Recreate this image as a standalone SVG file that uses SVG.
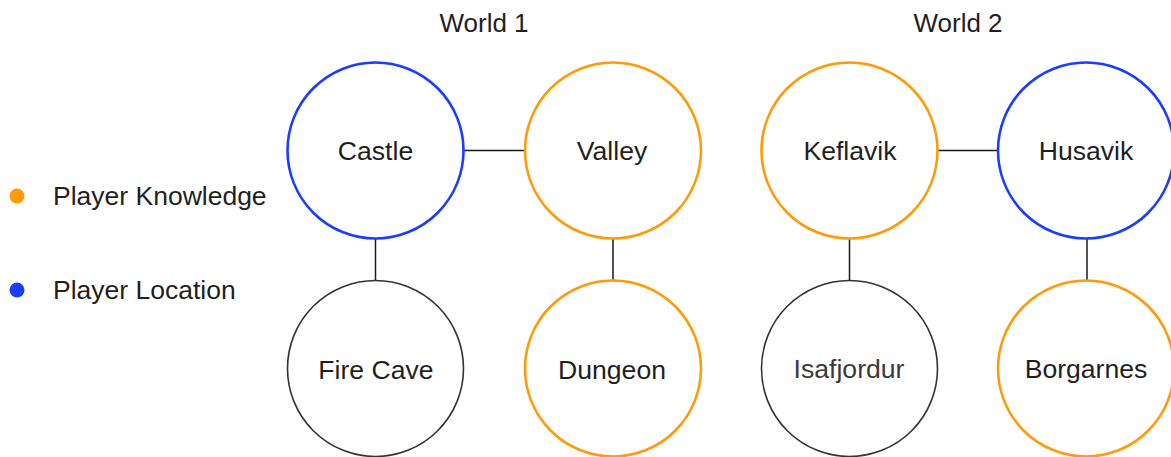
<svg xmlns="http://www.w3.org/2000/svg" width="1171" height="457" viewBox="0 0 1171 457">
<style>
  text { font-family: "Liberation Sans", Arial, Helvetica, sans-serif; fill: #1f1f1f; }
  .lbl { font-size: 26.6px; text-anchor: middle; }
  .title { font-size: 26px; text-anchor: middle; }
  .legend { font-size: 26.5px; }
  .node { fill: #ffffff; }
  .orange { stroke: #ff9a0a; stroke-width: 2.6; }
  .blue { stroke: #1a3dff; stroke-width: 2.6; }
  .plain { stroke: #333333; stroke-width: 1.6; }
  .edge { stroke: #1a1a1a; stroke-width: 1.5; fill: none; }
</style>
<rect width="1171" height="457" fill="#ffffff"/>
<g id="legend">
  <circle cx="17" cy="196" r="7.5" fill="#ff9a0a"/>
  <text class="legend" x="53" y="205">Player Knowledge</text>
  <circle cx="17" cy="290" r="7.5" fill="#1a3dff"/>
  <text class="legend" x="53" y="299">Player Location</text>
</g>
<g id="titles">
  <text class="title" x="484" y="32">World 1</text>
  <text class="title" x="958" y="32">World 2</text>
</g>
<g id="connectors">
  <line class="edge" x1="463.5" y1="150.5" x2="525" y2="150.5"/>
  <line class="edge" x1="375.5" y1="238.5" x2="375.5" y2="280.5"/>
  <line class="edge" x1="613" y1="238.5" x2="613" y2="280.5"/>
  <line class="edge" x1="937.5" y1="150.5" x2="998" y2="150.5"/>
  <line class="edge" x1="849.5" y1="238.5" x2="849.5" y2="280.5"/>
  <line class="edge" x1="1087" y1="238.5" x2="1087" y2="280.5"/>
</g>
<g id="castle">
  <circle class="node blue" cx="375.5" cy="150.5" r="88"/>
  <text class="lbl" x="375.5" y="160">Castle</text>
</g>
<g id="valley">
  <circle class="node orange" cx="613" cy="150.5" r="88"/>
  <text class="lbl" x="612" y="160">Valley</text>
</g>
<g id="firecave">
  <circle class="node plain" cx="375.5" cy="368.5" r="88"/>
  <text class="lbl" x="376" y="379">Fire Cave</text>
</g>
<g id="dungeon">
  <circle class="node orange" cx="613" cy="368.5" r="88"/>
  <text class="lbl" x="612" y="379">Dungeon</text>
</g>
<g id="keflavik">
  <circle class="node orange" cx="849.5" cy="150.5" r="88"/>
  <text class="lbl" x="850" y="160">Keflavik</text>
</g>
<g id="husavik">
  <circle class="node blue" cx="1086" cy="150.5" r="88"/>
  <text class="lbl" x="1086" y="160">Husavik</text>
</g>
<g id="isafjordur">
  <circle class="node plain" cx="849.5" cy="368.5" r="88"/>
  <text class="lbl" x="849" y="378" style="fill:#3a3a3a">Isafjordur</text>
</g>
<g id="borgarnes">
  <circle class="node orange" cx="1086" cy="368.5" r="88"/>
  <text class="lbl" x="1086" y="378">Borgarnes</text>
</g>
</svg>
